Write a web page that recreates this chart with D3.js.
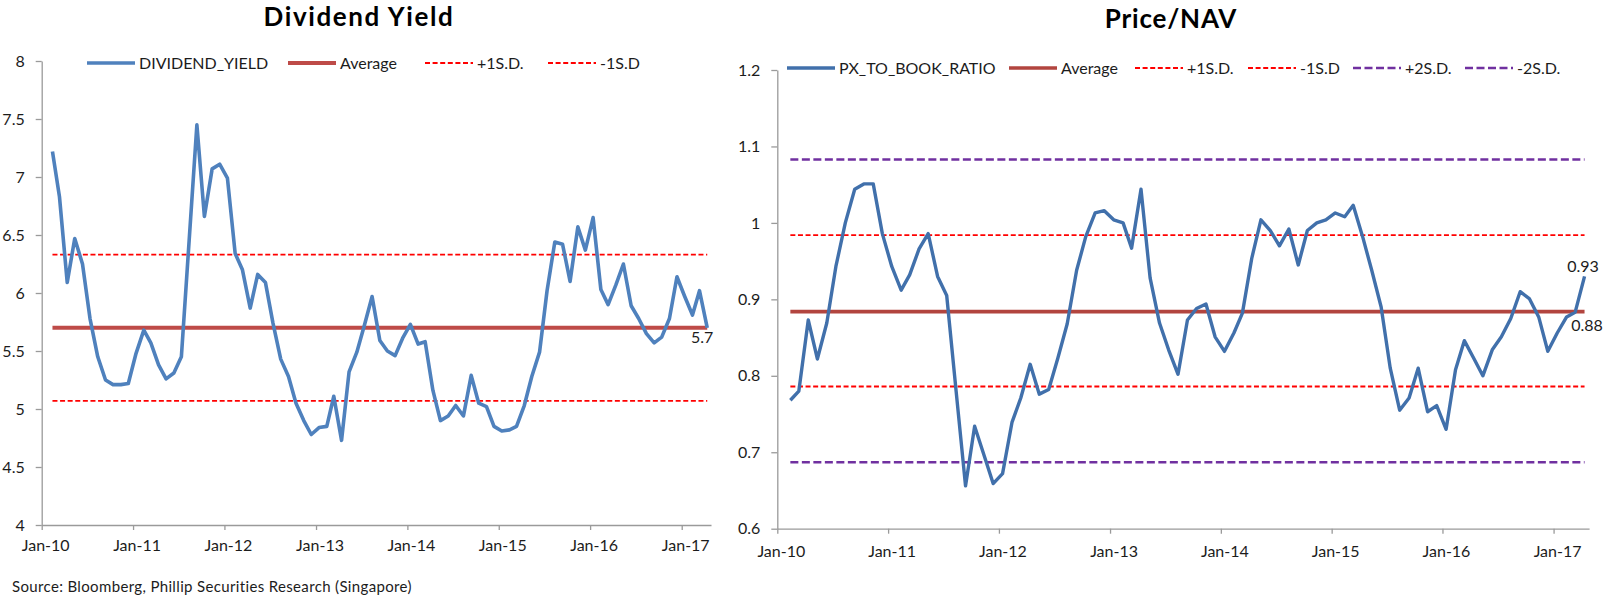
<!DOCTYPE html>
<html><head><meta charset="utf-8">
<script src="https://cdn.jsdelivr.net/npm/d3@7"></script>
<style>
html,body{margin:0;padding:0;background:#fff;}
svg{display:block;font-family:Lato,"Open Sans",sans-serif;}
</style></head>
<body>
<svg id="c" width="1608" height="602"></svg>
<script>
// ---------- data ----------
const startMonth = new Date(2010, 1, 13);   // first monthly observation (Feb-10)
const dividendYield = [7.22,6.83,6.09,6.47,6.25,5.78,5.45,5.25,5.21,5.21,5.22,5.48,5.68,5.57,5.38,5.26,5.31,5.45,6.45,7.45,
  6.66,7.07,7.11,6.99,6.34,6.20,5.87,6.16,6.09,5.74,5.43,5.28,5.05,4.90,4.78,4.84,4.85,5.11,4.73,5.32,
  5.49,5.72,5.97,5.59,5.50,5.46,5.61,5.73,5.56,5.58,5.16,4.90,4.94,5.03,4.94,5.29,5.05,5.02,4.85,4.81,
  4.82,4.85,5.03,5.28,5.49,6.02,6.44,6.42,6.10,6.57,6.37,6.65,6.03,5.90,6.07,6.25,5.89,5.78,5.65,5.57,
  5.62,5.78,6.14,5.97,5.81,6.02,5.70];
const pxToBook = [0.768,0.780,0.873,0.822,0.869,0.943,1.000,1.044,1.051,1.051,0.986,0.943,0.912,0.932,0.966,0.986,0.930,0.905,0.780,0.656,
  0.734,0.696,0.659,0.672,0.739,0.771,0.815,0.776,0.782,0.823,0.868,0.938,0.982,1.013,1.016,1.004,1.000,0.967,1.044,0.928,
  0.869,0.834,0.802,0.873,0.888,0.894,0.851,0.832,0.856,0.882,0.954,1.004,0.990,0.970,0.992,0.945,0.990,1.000,1.004,1.013,
  1.008,1.023,0.982,0.938,0.890,0.810,0.755,0.771,0.810,0.753,0.761,0.730,0.808,0.846,0.823,0.800,0.834,0.851,0.875,0.910,
  0.901,0.877,0.832,0.856,0.877,0.883,0.930];
const dyAvg = 5.70, dyPlus1 = 6.33, dyMinus1 = 5.07;
const pbAvg = 0.884, pbPlus1 = 0.984, pbMinus1 = 0.786, pbPlus2 = 1.083, pbMinus2 = 0.687;
const dyTicks = [4,4.5,5,5.5,6,6.5,7,7.5,8];
const pbTicks = [0.6,0.7,0.8,0.9,1.0,1.1,1.2];
const yearTicks = [2010,2011,2012,2013,2014,2015,2016,2017];
const dyLegend = ["DIVIDEND_YIELD","Average","+1S.D.","-1S.D"];
const pbLegend = ["PX_TO_BOOK_RATIO","Average","+1S.D.","-1S.D","+2S.D.","-2S.D."];

const dates = dividendYield.map((d,i)=>d3.timeMonth.offset(startMonth,i));

// ---------- styles ----------
const ST = {
  blueL:{stroke:"#4F81BD",w:3.6,dash:null},
  blueR:{stroke:"#4170AB",w:3.4,dash:null},
  avgL:{stroke:"#BE4B48",w:4,dash:null},
  avgR:{stroke:"#B2453F",w:3.6,dash:null},
  sd1:{stroke:"#FF0000",w:1.8,dash:"5,2.6"},
  sd2:{stroke:"#7030A0",w:2.6,dash:"8,3.5"}
};
const svg = d3.select("#c");
const AX = "#9a9a9a", TXT = "#1c1c1c";

function chart(cfg){
  const g = svg.append("g");
  const x = d3.scaleTime().domain([new Date(2010,0,1), new Date(2017,3,28)]).range([cfg.x0,cfg.x1]);
  const y = d3.scaleLinear().domain(cfg.ydom).range([cfg.yb,cfg.yt]);
  // axes
  const xa = g.append("g").attr("transform",`translate(0,${cfg.yb})`)
    .call(d3.axisBottom(x).tickValues(yearTicks.map(v=>new Date(v,0,1)))
      .tickFormat(d3.timeFormat("Jan-%y")).tickSize(5).tickSizeOuter(0).tickPadding(cfg.xpad));
  const ya = g.append("g").attr("transform",`translate(${cfg.x0},0)`)
    .call(d3.axisLeft(y).tickValues(cfg.ticks).tickFormat(d=>+d.toFixed(2)+"").tickSize(6).tickSizeOuter(0).tickPadding(11));
  [xa,ya].forEach(a=>{
    a.select(".domain").attr("stroke",AX).attr("stroke-width",1.3);
    a.selectAll(".tick line").attr("stroke",AX).attr("stroke-width",1.3);
    a.selectAll(".tick text").attr("fill",TXT).style("font-size","16px").style("font-family","Lato");
  });
  xa.selectAll(".tick text").attr("dx",3.5);
  // reference lines and series
  const line = d3.line().x((d,i)=>x(dates[i])).y(d=>y(d));
  cfg.series.forEach(s=>{
    const vals = Array.isArray(s.v) ? s.v : dates.map(()=>s.v);
    g.append("path").attr("d",line(vals)).attr("fill","none")
      .attr("stroke",s.st.stroke).attr("stroke-width",s.st.w)
      .attr("stroke-dasharray",s.st.dash).attr("stroke-linejoin","round");
  });
  // legend
  cfg.legend.forEach((lab,i)=>{
    const s = cfg.series[cfg.legendOrder[i]].st;
    const lx = cfg.legX[i];
    g.append("line").attr("x1",lx).attr("x2",lx+48).attr("y1",cfg.legY).attr("y2",cfg.legY)
      .attr("stroke",s.stroke).attr("stroke-width",s.w).attr("stroke-dasharray",s.dash);
    g.append("text").attr("x",lx+52).attr("y",cfg.legY+6).attr("fill",TXT)
      .style("font-size","16px").text(lab);
  });
  // title
  g.append("text").attr("x",cfg.tx).attr("y",cfg.ty).attr("text-anchor","middle")
    .attr("fill","#000").style("font-size","26px").style("font-weight","bold")
    .style("letter-spacing",cfg.tls+"px").text(cfg.title);
  return {g,x,y};
}

// ---------- left chart ----------
const L = chart({
  x0:41.7,x1:711,yt:61,yb:525,ydom:[4,8],ticks:dyTicks,xpad:10,
  title:"Dividend Yield",tx:359,ty:26,tls:1.6,
  series:[
    {v:dyMinus1,st:ST.sd1},{v:dyPlus1,st:ST.sd1},{v:dyAvg,st:ST.avgL},{v:dividendYield,st:ST.blueL}
  ],
  legend:dyLegend,legendOrder:[3,2,1,0],legX:[87,288,425,548],legY:63
});
const last = dates.length-1;
L.g.append("text").attr("x",L.x(dates[last])-5).attr("y",L.y(dyAvg)+15.5).attr("text-anchor","middle")
  .attr("fill",TXT).style("font-size","16px").text(dyAvg.toFixed(1));

// ---------- right chart ----------
const R = chart({
  x0:777.3,x1:1589.1,yt:70,yb:528.7,ydom:[0.6,1.2],ticks:pbTicks,xpad:11.5,
  title:"Price/NAV",tx:1171,ty:28,tls:0.8,
  series:[
    {v:pbMinus2,st:ST.sd2},{v:pbPlus2,st:ST.sd2},{v:pbMinus1,st:ST.sd1},{v:pbPlus1,st:ST.sd1},
    {v:pbAvg,st:ST.avgR},{v:pxToBook,st:ST.blueR}
  ],
  legend:pbLegend,legendOrder:[5,4,3,2,1,0],legX:[787,1009,1135,1248,1353,1465],legY:68
});
R.g.append("text").attr("x",R.x(dates[last])-1.5).attr("y",R.y(pxToBook[last])-4.5).attr("text-anchor","middle")
  .attr("fill",TXT).style("font-size","16px").text(pxToBook[last].toFixed(2));
R.g.append("text").attr("x",R.x(dates[last])+2.5).attr("y",R.y(pbAvg)+19).attr("text-anchor","middle")
  .attr("fill",TXT).style("font-size","16px").text(pbAvg.toFixed(2));

// ---------- source ----------
svg.append("text").attr("x",12).attr("y",592).attr("fill",TXT).style("font-size","15px")
  .style("letter-spacing","0.35px")
  .text("Source: Bloomberg, Phillip Securities Research (Singapore)");
</script>
</body></html>
